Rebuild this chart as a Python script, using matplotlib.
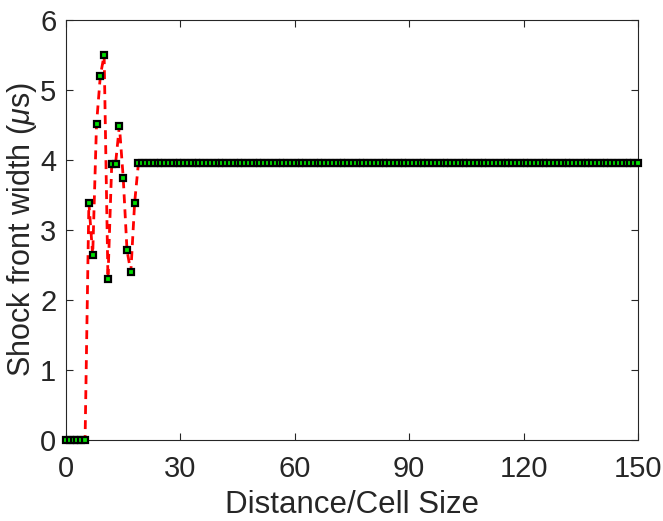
import numpy as np
import matplotlib
matplotlib.use("Agg")
import matplotlib.pyplot as plt

plt.rcParams['font.family'] = ['Liberation Sans', 'DejaVu Sans']
plt.rcParams['mathtext.fontset'] = 'custom'
plt.rcParams['mathtext.it'] = 'Liberation Sans:italic'
plt.rcParams['mathtext.rm'] = 'Liberation Sans'

# distance / cell size (integer steps 0..150)
distance = np.arange(0, 151)
# shock front width in microseconds
width_head = [0, 0, 0, 0, 0, 0, 3.39, 2.64, 4.51, 5.20, 5.50, 2.30,
              3.95, 3.95, 4.49, 3.75, 2.71, 2.40, 3.39]
plateau = 3.96
width = np.array(width_head + [plateau] * (len(distance) - len(width_head)))

x_ticks = [0, 30, 60, 90, 120, 150]
y_ticks = [0, 1, 2, 3, 4, 5, 6]

fig = plt.figure(figsize=(6.63, 5.21), dpi=100)
ax = fig.add_axes([66 / 663, 81 / 521, 572 / 663, 420 / 521])

ax.plot(distance, width, color='red', lw=2.0, zorder=2,
        linestyle=(0, (3.2, 2.2)))
ax.plot(distance, width, 's', ms=4.6, mfc='#00e000', mec='black', mew=1.6,
        linestyle='none', zorder=3, clip_on=False)

ax.set_xlim(0, 150)
ax.set_ylim(0, 6)
ax.set_xticks(x_ticks)
ax.set_yticks(y_ticks)

axis_col = '#262626'
for s in ax.spines.values():
    s.set_color(axis_col)
    s.set_linewidth(0.8)
ax.tick_params(direction='in', top=True, right=True, length=5,
               color=axis_col, labelcolor=axis_col, labelsize=21)
ax.tick_params(axis='x', pad=11)
ax.tick_params(axis='y', pad=7)

ax.set_xlabel('Distance/Cell Size', fontsize=22.5, color=axis_col, labelpad=5)
ax.set_ylabel(r'Shock front width ($\mu$s)', fontsize=22, color=axis_col,
              labelpad=1)

fig.savefig('out.png', dpi=100)
